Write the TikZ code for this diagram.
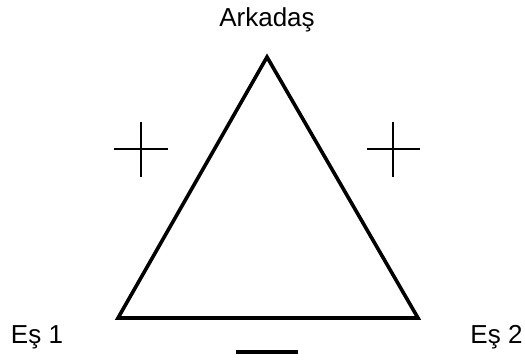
\documentclass[tikz,border=0pt]{standalone}
\usepackage{fontspec}
\setmainfont{Liberation Sans}
\begin{document}
\begin{tikzpicture}[x=1pt,y=-1pt,
  lbl/.style={anchor=base,inner sep=0pt,font=\fontsize{26}{30}\selectfont},
  edge/.style={line width=3.6pt,line join=miter},
  signline/.style={line width=1.5pt},
  minusline/.style={line width=4.5pt}]
\useasboundingbox (0,0) rectangle (525,359);
\coordinate (top) at (267,57);
\coordinate (bl) at (118,318);
\coordinate (br) at (418,318);
\draw[edge] (top) -- (br) -- (bl) -- cycle;
\node[lbl] (arkadas) at (267,26) {Arkadaş};
\node[lbl] (es1) at (37,343) {Eş 1};
\node[lbl] (es2) at (496.5,343) {Eş 2};
% plus signs
\draw[signline] (114,149) -- (168,149) (141,122) -- (141,177);
\draw[signline] (367,149) -- (420,149) (393,122) -- (393,177);
% minus sign
\draw[minusline] (236,352) -- (298,352);
\end{tikzpicture}
\end{document}
